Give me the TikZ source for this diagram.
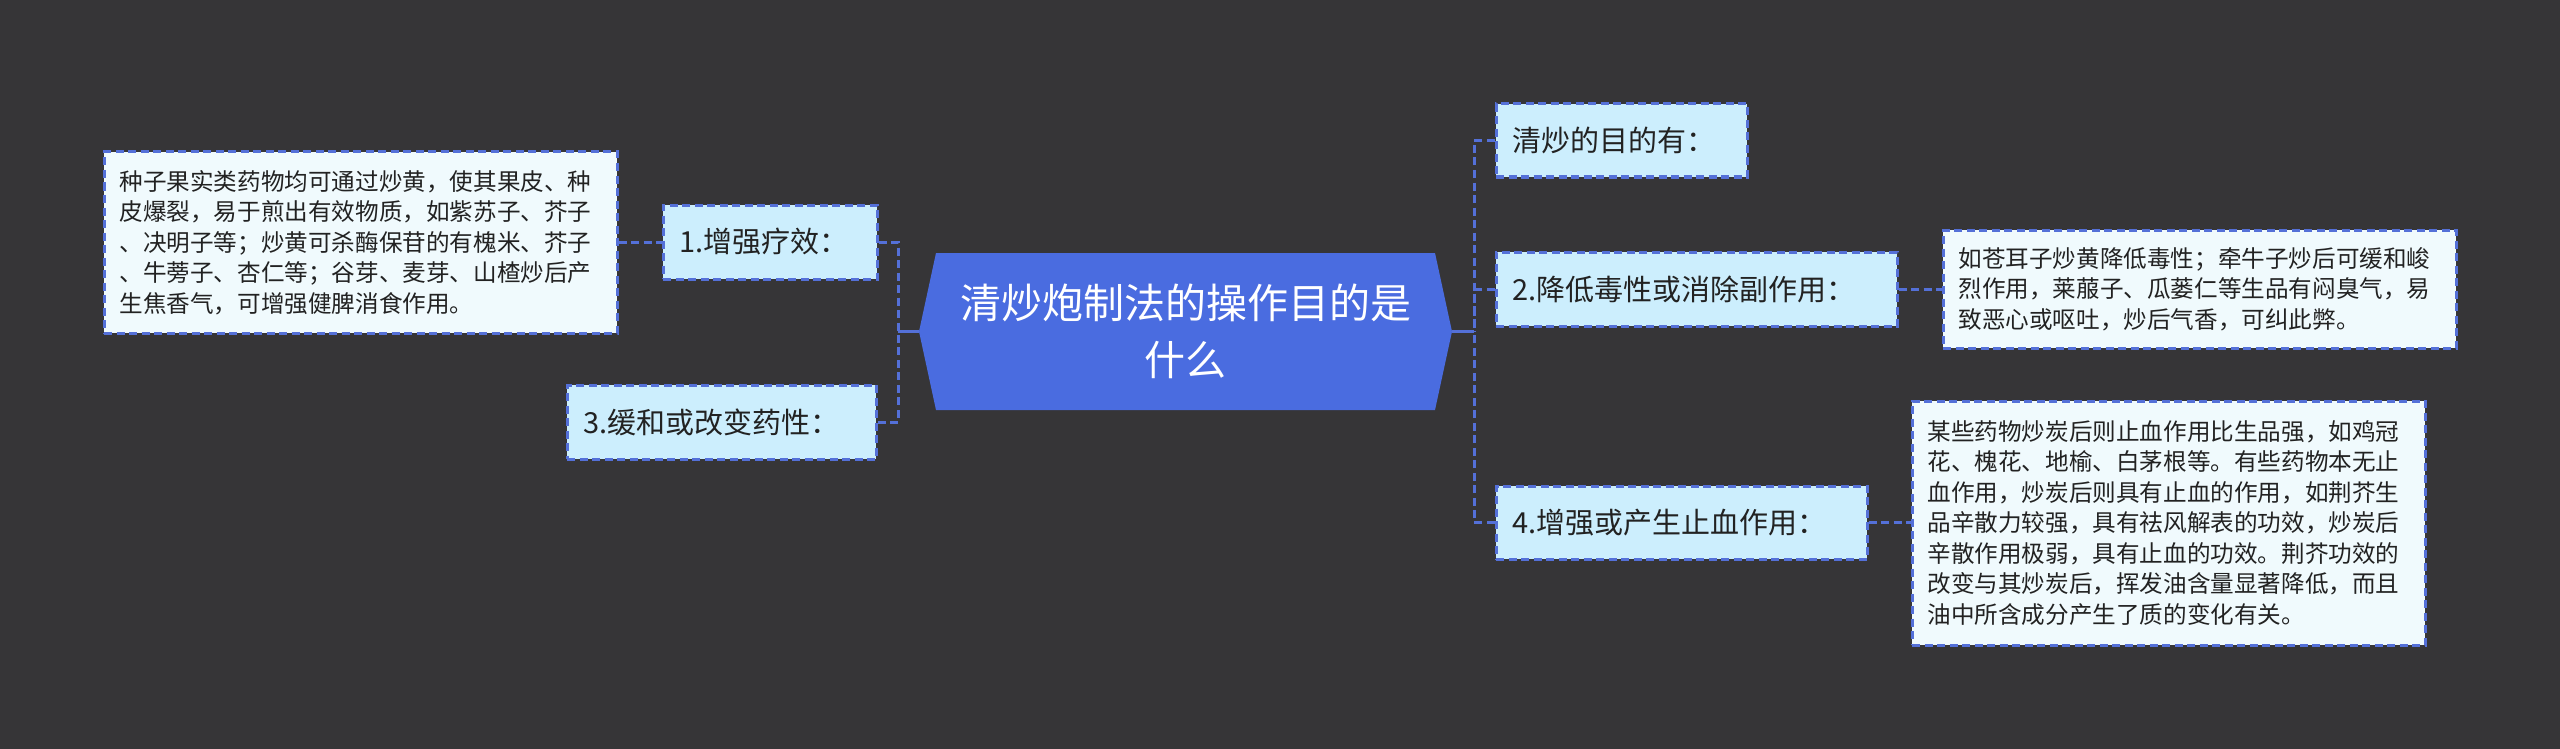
\documentclass[tikz,border=0pt]{standalone}
\usepackage{fontspec}
\setmainfont{Noto Sans CJK SC}
\usetikzlibrary{calc}
\definecolor{bgc}{HTML}{363537}
\definecolor{linec}{HTML}{5470D8}
\definecolor{cenfill}{HTML}{4A6CE0}
\definecolor{brfill}{HTML}{CCEEFD}
\definecolor{leaffill}{HTML}{F0FAFD}
\definecolor{txt}{HTML}{222222}
\tikzset{
  dline/.style={draw=linec, line width=3pt, dash pattern=on 8pt off 4.5pt},
  sline/.style={draw=linec, line width=3pt},
  branch/.style={dline, fill=brfill, text=txt, align=left, inner xsep=16pt, inner ysep=0pt,
    font=\fontsize{29pt}{36pt}\selectfont},
  leaf/.style={dline, fill=leaffill, text=txt, align=left, inner xsep=15.5pt, inner ysep=0pt,
    text width=482pt, font=\fontsize{23.6pt}{30.5pt}\selectfont},
}
\begin{document}
\begin{tikzpicture}[x=1pt,y=-1pt]
\fill[bgc] (0,0) rectangle (2560,749);
% central hexagon
\fill[cenfill] (919,331.5) -- (936,253) -- (1435,253) -- (1452,331.5) -- (1435,410) -- (936,410) -- cycle;
\node[minimum width=533pt, minimum height=157pt, inner sep=0pt, text=white, align=center,
  font=\fontsize{41pt}{57pt}\selectfont] (cen) at (1185.5,331.5) {清炒炮制法的操作目的是\\什么};
% left branches
\node[branch, text width=182pt, minimum height=74pt] (b1) at (770,242) {1.增强疗效：};
\node[branch, text width=277pt, minimum height=74pt] (b3) at (721.5,422) {3.缓和或改变药性：};
\node[leaf, minimum height=181pt] (leaf1) at (360.5,242.5) {种子果实类药物均可通过炒黄，使其果皮、种\\皮爆裂，易于煎出有效物质，如紫苏子、芥子\\、决明子等；炒黄可杀酶保苷的有槐米、芥子\\、牛蒡子、杏仁等；谷芽、麦芽、山楂炒后产\\生焦香气，可增强健脾消食作用。};
% right branches
\node[branch, text width=219pt, minimum height=73pt] (r0) at (1621.5,140.5) {清炒的目的有：};
\node[branch, text width=369pt, minimum height=74pt] (r2) at (1696.5,289) {2.降低毒性或消除副作用：};
\node[branch, text width=339pt, minimum height=73pt] (r4) at (1681.5,522.5) {4.增强或产生止血作用：};
\node[leaf, minimum height=118pt] (leaf2) at (2199.5,289) {如苍耳子炒黄降低毒性；牵牛子炒后可缓和峻\\烈作用，莱菔子、瓜蒌仁等生品有闷臭气，易\\致恶心或呕吐，炒后气香，可纠此弊。};
\node[leaf, minimum height=244pt] (leaf4) at (2168.5,523) {某些药物炒炭后则止血作用比生品强，如鸡冠\\花、槐花、地榆、白茅根等。有些药物本无止\\血作用，炒炭后则具有止血的作用，如荆芥生\\品辛散力较强，具有祛风解表的功效，炒炭后\\辛散作用极弱，具有止血的功效。荆芥功效的\\改变与其炒炭后，挥发油含量显著降低，而且\\油中所含成分产生了质的变化有关。};
% buses
\coordinate (lbus) at (898,331.5);
\coordinate (rbus) at (1474,331.5);
\draw[sline] (cen.west) -- (lbus);
\draw[sline] (cen.east) -- (rbus);
\draw[dline] (b1.east) -| (lbus);
\draw[dline] (b3.east) -| (lbus);
\draw[dline] (r0.west) -| (rbus);
\draw[dline] (r2.west) -| (rbus);
\draw[dline] (r4.west) -| (rbus);
% leaf connectors
\draw[dline] (leaf1.east) -- (leaf1.east -| b1.west);
\draw[dline] (r2.east) -- (r2.east -| leaf2.west);
\draw[dline] (r4.east) -- (r4.east -| leaf4.west);
\end{tikzpicture}
\end{document}
